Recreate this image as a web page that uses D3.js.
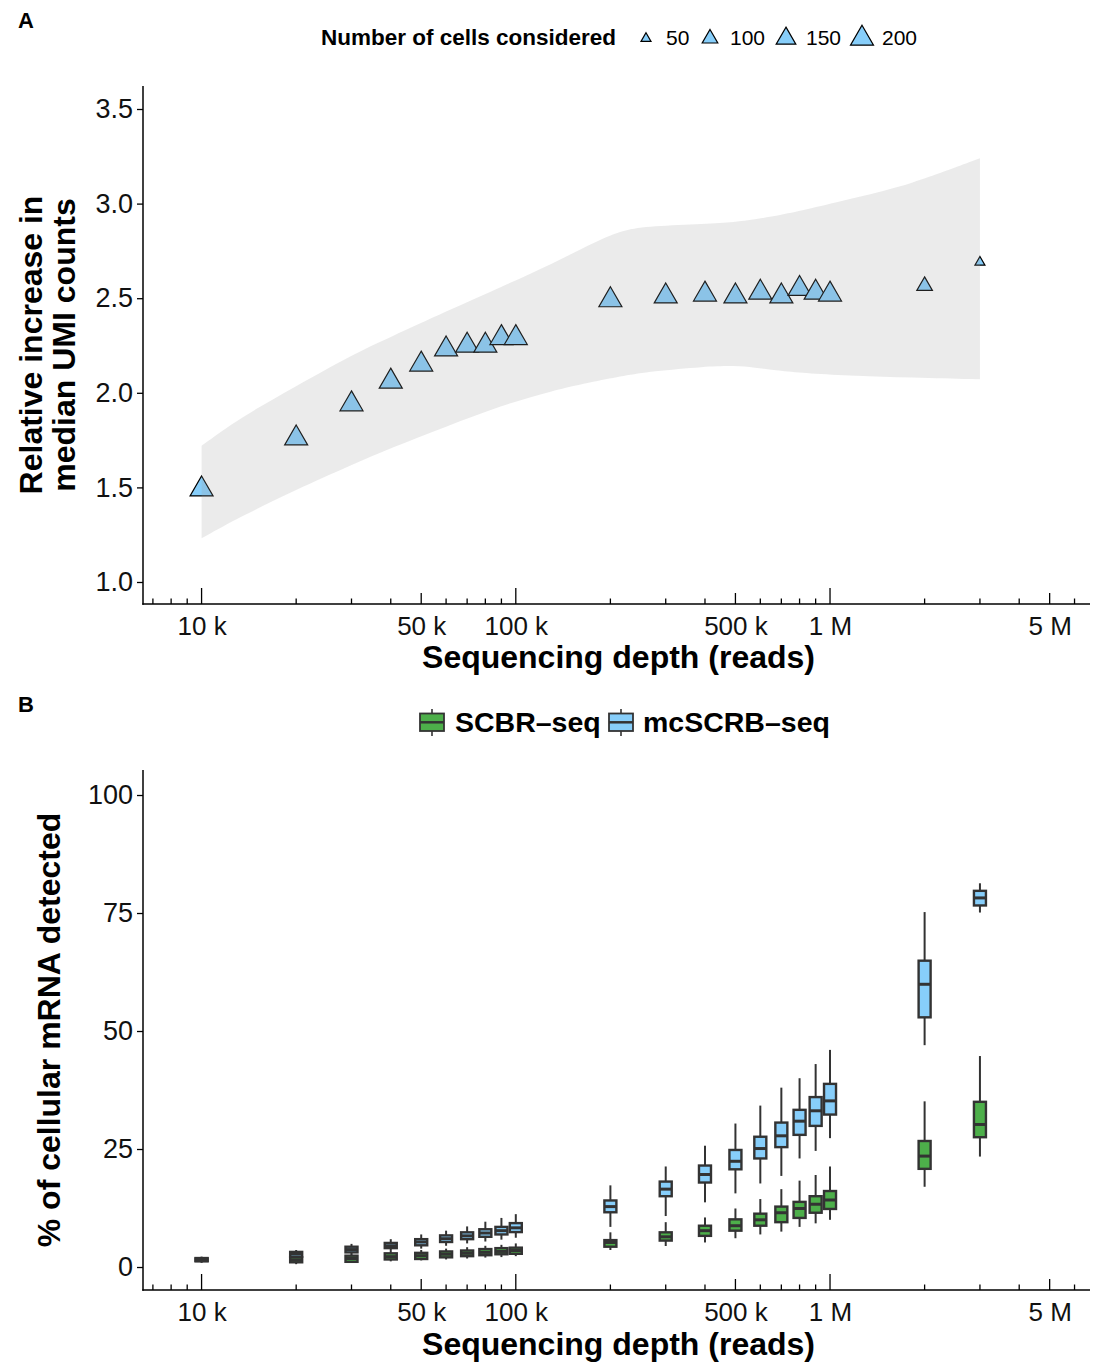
<!DOCTYPE html>
<html>
<head>
<meta charset="utf-8">
<script src="https://cdn.jsdelivr.net/npm/d3@7"></script>
<style>
  html, body { margin: 0; padding: 0; background: #fff; }
  svg { display: block; font-family: "Liberation Sans", Arial, Helvetica, sans-serif; }
</style>
</head>
<body>
<svg id="chart" width="1093" height="1364"></svg>
<script>
// ---------------- DATA ----------------
// Panel A
const depthsA = [1e4, 2e4, 3e4, 4e4, 5e4, 6e4, 7e4, 8e4, 9e4, 1e5, 2e5, 3e5, 4e5, 5e5, 6e5, 7e5, 8e5, 9e5, 1e6, 2e6, 3e6];
const relIncrease = [1.49, 1.76, 1.94, 2.06, 2.15, 2.23, 2.25, 2.25, 2.29, 2.29, 2.49, 2.51, 2.52, 2.51, 2.53, 2.51, 2.55, 2.53, 2.52, 2.565, 2.69];
const cellsConsidered = [200, 200, 200, 200, 200, 200, 200, 200, 200, 200, 200, 200, 200, 200, 200, 200, 200, 200, 200, 100, 50];
const cellLegend = [50, 100, 150, 200];

// smoother confidence band (panel A)
const ribbonDepth = [1e4, 1.33e4, 2e4, 3e4, 4e4, 6e4, 9e4, 1.3e5, 1.8e5, 2.2e5, 2.7e5, 4e5, 5e5, 5.7e5, 7e5, 8.5e5, 1.2e6, 1.8e6, 3e6];
const ribbonLower = [1.231, 1.345, 1.488, 1.618, 1.708, 1.821, 1.933, 2.01, 2.062, 2.089, 2.113, 2.139, 2.143, 2.135, 2.115, 2.102, 2.09, 2.081, 2.071];
const ribbonUpper = [1.72, 1.87, 2.035, 2.20, 2.295, 2.43, 2.56, 2.68, 2.80, 2.862, 2.882, 2.893, 2.903, 2.915, 2.94, 2.97, 3.03, 3.10, 3.24];

// Panel B : [lower whisker, Q1, median, Q3, upper whisker]
const depthsB = [1e4, 2e4, 3e4, 4e4, 5e4, 6e4, 7e4, 8e4, 9e4, 1e5, 2e5, 3e5, 4e5, 5e5, 6e5, 7e5, 8e5, 9e5, 1e6, 2e6, 3e6];
const scbrBoxes = [
  [0.9, 1.2, 1.5, 1.8, 2.1], [0.6, 1.0, 1.5, 2.05, 2.4], [0.9, 1.1, 1.8, 2.4, 2.8], [1.2, 1.6, 2.2, 2.9, 3.4],
  [1.4, 1.7, 2.4, 3.0, 3.6], [1.6, 2.05, 2.7, 3.3, 3.9], [1.8, 2.3, 2.9, 3.5, 4.2], [2.0, 2.5, 3.1, 3.8, 4.5],
  [2.1, 2.7, 3.3, 4.0, 4.7], [2.3, 2.8, 3.5, 4.1, 5.0], [3.6, 4.3, 5.2, 5.7, 7.35], [4.45, 5.6, 6.4, 7.35, 9.5],
  [5.2, 6.6, 7.7, 8.75, 10.5], [6.1, 7.7, 8.75, 10.1, 12.4], [6.9, 8.75, 10.0, 11.3, 14.4], [7.5, 9.5, 11.5, 12.8, 16.5],
  [8.5, 10.4, 12.4, 13.8, 18.3], [9.25, 11.5, 13.3, 15.0, 19.5], [10.0, 12.3, 14.2, 16.1, 21.3],
  [17.0, 20.8, 23.5, 26.7, 35.1], [23.4, 27.5, 30.2, 35.0, 44.7]
];
const mcscrbBoxes = [
  [1.0, 1.3, 1.6, 1.9, 2.2], [2.0, 2.2, 2.8, 3.2, 3.6], [2.7, 3.1, 3.7, 4.3, 4.9], [3.4, 4.0, 4.5, 5.1, 5.9],
  [3.9, 4.6, 5.3, 5.9, 6.9], [4.5, 5.3, 6.0, 6.7, 7.7], [5.0, 5.9, 6.6, 7.35, 8.6], [5.4, 6.4, 7.2, 8.0, 9.6],
  [5.8, 6.9, 7.7, 8.5, 10.4], [6.2, 7.4, 8.3, 9.3, 11.2], [8.5, 11.6, 12.8, 14.1, 17.3], [10.8, 15.0, 16.5, 18.1, 21.3],
  [13.7, 17.9, 19.6, 21.5, 25.7], [15.6, 20.7, 22.4, 24.8, 30.4], [17.7, 23.0, 25.1, 27.6, 34.2], [19.3, 25.4, 27.8, 30.6, 38.0],
  [23.0, 28.0, 30.9, 33.3, 40.0], [24.6, 29.9, 33.1, 36.0, 43.0], [27.3, 32.3, 35.2, 38.8, 46.0],
  [47.0, 52.9, 59.9, 64.9, 75.2], [75.1, 76.6, 78.2, 79.7, 81.3]
];
const seriesNames = ["SCBR\u2013seq", "mcSCRB\u2013seq"];

// axis ticks
const xTickValues = [1e4, 5e4, 1e5, 5e5, 1e6, 5e6];
const xTickLabels = ["10 k", "50 k", "100 k", "500 k", "1 M", "5 M"];
const yTicksA = [1.0, 1.5, 2.0, 2.5, 3.0, 3.5];
const yTicksB = [0, 25, 50, 75, 100];

// ---------------- STYLE ----------------
const FONT = '"Liberation Sans", Arial, Helvetica, sans-serif';
const triFill = "#87CEFA";
const boxColors = ["#4DAF4A", "#87CEFA"];
const dark = "#333333";

const svg = d3.select("#chart");

const xA = d3.scaleLog().domain([6510, 6.72e6]).range([143, 1090]);
const yA = d3.scaleLinear().domain([0.8837, 3.6216]).range([604, 86]);
const xB = d3.scaleLog().domain([6510, 6.72e6]).range([143, 1090]);
const yB = d3.scaleLinear().domain([-4.87, 105.3]).range([1290, 770]);

// triangle side by number of cells (area linear)
const triArea = d3.scaleLinear().domain([50, 200]).range([100, 529]);
const triSym = n => {
  const side = Math.sqrt(triArea(n));
  return d3.symbol().type(d3.symbolTriangle).size(Math.sqrt(3) / 4 * side * side)();
};

// ---------------- AXES HELPERS ----------------
function drawAxes(x, y, yTicks, yFmt, xTitleY) {
  const [x0, x1] = x.range();
  const [yb, yt] = y.range();
  // y axis
  const ya = svg.append("g").attr("transform", `translate(${x0},0)`)
    .call(d3.axisLeft(y).tickValues(yTicks).tickFormat(yFmt).tickSize(6).tickPadding(4).tickSizeOuter(0));
  ya.select(".domain").remove();
  ya.selectAll(".tick line").attr("stroke", "#000").attr("stroke-width", 1.3);
  ya.selectAll(".tick text").attr("font-size", 27).attr("font-family", FONT).attr("fill", "#111");
  svg.append("line").attr("x1", x0).attr("x2", x0).attr("y1", yt).attr("y2", yb + 0.7)
    .attr("stroke", "#000").attr("stroke-width", 1.5);

  // x axis labels
  const xa = svg.append("g").attr("transform", `translate(0,${yb})`)
    .call(d3.axisBottom(x).tickValues(xTickValues).tickFormat((d, i) => xTickLabels[i]).tickSize(0).tickPadding(13));
  xa.select(".domain").remove();
  xa.selectAll(".tick text").attr("font-size", 26).attr("font-family", FONT).attr("fill", "#111");
  svg.append("line").attr("x1", x0 - 0.7).attr("x2", x1).attr("y1", yb).attr("y2", yb)
    .attr("stroke", "#000").attr("stroke-width", 1.5);

  // log ticks inside the panel
  const lt = x.ticks().filter(v => x(v) >= x0 + 2 && x(v) <= x1);
  svg.append("g").selectAll("line").data(lt).join("line")
    .attr("x1", d => x(d)).attr("x2", d => x(d))
    .attr("y1", yb)
    .attr("y2", d => {
      const m = Math.round(d / Math.pow(10, Math.floor(Math.log10(d) + 1e-9)));
      return yb - (m === 1 ? 16 : m === 5 ? 11 : 5.5);
    })
    .attr("stroke", "#000").attr("stroke-width", 1.3);

  svg.append("text").attr("x", (x0 + x1) / 2 + 2).attr("y", xTitleY)
    .attr("text-anchor", "middle").attr("font-size", 32).attr("font-weight", "bold")
    .attr("font-family", FONT).text("Sequencing depth (reads)");
}

// ---------------- PANEL A ----------------
svg.append("text").attr("x", 18).attr("y", 28).attr("font-size", 22).attr("font-weight", "bold")
  .attr("font-family", FONT).text("A");

// legend A
svg.append("text").attr("x", 321).attr("y", 45).attr("font-size", 22.5).attr("font-weight", "bold")
  .attr("font-family", FONT).text("Number of cells considered");
const legTriX = [646, 710, 786, 862];
const legA = svg.append("g");
cellLegend.forEach((n, i) => {
  legA.append("path").attr("d", triSym(n)).attr("transform", `translate(${legTriX[i]},38.5)`)
    .attr("fill", triFill).attr("stroke", "#000").attr("stroke-width", 1.2);
  legA.append("text").attr("x", legTriX[i] + 20).attr("y", 45).attr("font-size", 21)
    .attr("font-family", FONT).text(n);
});

drawAxes(xA, yA, yTicksA, d3.format(".1f"), 668);

// points
svg.append("g").selectAll("path").data(depthsA).join("path")
  .attr("d", (d, i) => triSym(cellsConsidered[i]))
  .attr("transform", (d, i) => `translate(${xA(d)},${yA(relIncrease[i])})`)
  .attr("fill", triFill).attr("stroke", "#000").attr("stroke-width", 1.2);

// ribbon on top (transparent grey)
const area = d3.area()
  .x((d, i) => xA(ribbonDepth[i]))
  .y0((d, i) => yA(ribbonLower[i]))
  .y1((d, i) => yA(ribbonUpper[i]))
  .curve(d3.curveBasis);
svg.append("path").datum(ribbonDepth).attr("d", area)
  .attr("fill", "rgba(153,153,153,0.2)");

// y title A
const ytA = svg.append("text").attr("transform", "translate(0,345) rotate(-90)")
  .attr("text-anchor", "middle").attr("font-size", 32).attr("font-weight", "bold").attr("font-family", FONT);
ytA.append("tspan").attr("x", 0).attr("y", 42).text("Relative increase in");
ytA.append("tspan").attr("x", 0).attr("y", 75).text("median UMI counts");

// ---------------- PANEL B ----------------
svg.append("text").attr("x", 18).attr("y", 712).attr("font-size", 22).attr("font-weight", "bold")
  .attr("font-family", FONT).text("B");

// legend B
const legB = svg.append("g");
const keyX = [420, 609];
const labX = [455, 643];
seriesNames.forEach((s, i) => {
  const cx = keyX[i] + 12;
  legB.append("line").attr("x1", cx).attr("x2", cx).attr("y1", 709).attr("y2", 736)
    .attr("stroke", dark).attr("stroke-width", 1.6);
  legB.append("rect").attr("x", keyX[i]).attr("y", 713.5).attr("width", 24).attr("height", 17.5)
    .attr("fill", boxColors[i]).attr("stroke", dark).attr("stroke-width", 1.8);
  legB.append("line").attr("x1", keyX[i]).attr("x2", keyX[i] + 24).attr("y1", 722.3).attr("y2", 722.3)
    .attr("stroke", dark).attr("stroke-width", 2.5);
  legB.append("text").attr("x", labX[i]).attr("y", 732).attr("font-size", 28.5).attr("font-weight", "bold")
    .attr("font-family", FONT).text(s);
});

drawAxes(xB, yB, yTicksB, d3.format("d"), 1355);

// box plots
const bw = 12;
[scbrBoxes, mcscrbBoxes].forEach((boxes, si) => {
  const g = svg.append("g");
  const items = g.selectAll("g").data(depthsB).join("g");
  items.append("line")
    .attr("x1", d => xB(d)).attr("x2", d => xB(d))
    .attr("y1", (d, i) => yB(boxes[i][0])).attr("y2", (d, i) => yB(boxes[i][4]))
    .attr("stroke", dark).attr("stroke-width", 2);
  items.append("rect")
    .attr("x", d => xB(d) - bw / 2).attr("width", bw)
    .attr("y", (d, i) => yB(boxes[i][3]))
    .attr("height", (d, i) => Math.max(0.5, yB(boxes[i][1]) - yB(boxes[i][3])))
    .attr("fill", boxColors[si]).attr("stroke", dark).attr("stroke-width", 2.4);
  items.append("line")
    .attr("x1", d => xB(d) - bw / 2).attr("x2", d => xB(d) + bw / 2)
    .attr("y1", (d, i) => yB(boxes[i][2])).attr("y2", (d, i) => yB(boxes[i][2]))
    .attr("stroke", dark).attr("stroke-width", 3);
});

// y title B
svg.append("text").attr("transform", "translate(60,1030) rotate(-90)")
  .attr("text-anchor", "middle").attr("font-size", 32).attr("font-weight", "bold").attr("font-family", FONT)
  .text("% of cellular mRNA detected");
</script>
</body>
</html>
